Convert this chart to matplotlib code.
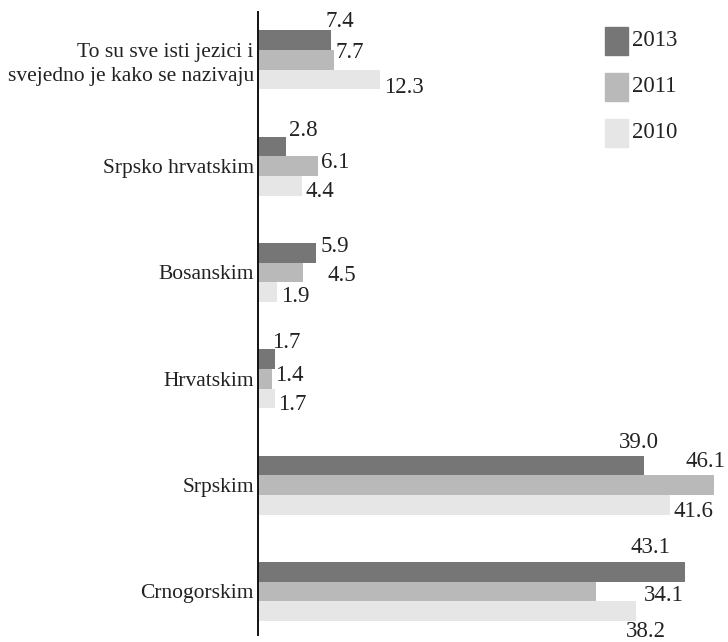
import matplotlib

matplotlib.use("Agg")
import matplotlib.pyplot as plt
from matplotlib.patches import Rectangle
import numpy as np

plt.rcParams["font.family"] = ["Liberation Serif", "DejaVu Serif"]

categories = [
    "To su sve isti jezici i\nsvejedno je kako se nazivaju",
    "Srpsko hrvatskim",
    "Bosanskim",
    "Hrvatskim",
    "Srpskim",
    "Crnogorskim",
]
years = ["2013", "2011", "2010"]
v2013 = [7.4, 2.8, 5.9, 1.7, 39.0, 43.1]
v2011 = [7.7, 6.1, 4.5, 1.4, 46.1, 34.1]
v2010 = [12.3, 4.4, 1.9, 1.7, 41.6, 38.2]

colors = ["#767676", "#b9b9b9", "#e6e6e6"]

# hand-placed value labels: (dx, dy) in pixels from the bar end, baseline-aligned
label_offsets = [
    [(-6, 13), (1, 1.5), (4, -13.5)],
    [(3, 10), (3, -2), (4, -11)],
    [(4, 1), (25, -8.5), (4, -9.5)],
    [(-3, 11), (3, -2), (3, -12)],
    [(-25, 17), (-29, 18), (4, -12)],
    [(-54, 19), (48, -9.5), (-10, -25.5)],
]

W, H = 728, 642
fig = plt.figure(figsize=(W / 100, H / 100), dpi=100)
ax = fig.add_axes([258 / W, 7 / H, 470 / W, 623 / H])

y = np.arange(len(categories))
h = 0.185
series = [v2013, v2011, v2010]
for k, (vals, col) in enumerate(zip(series, colors)):
    ax.barh(y + (k - 1) * h, vals, height=h, color=col)

for i in range(len(categories)):
    for k, vals in enumerate(series):
        dx, dy = label_offsets[i][k]
        ax.annotate(f"{vals[i]:.1f}", (vals[i], y[i] + (k - 1) * h),
                    xytext=(dx, dy), textcoords="offset pixels",
                    ha="left", va="baseline", fontsize=16.5, color="#222222")

ax.set_xlim(0, 47.47)
ax.set_ylim(5.41, -0.45)
ax.set_yticks(y)
ax.set_yticklabels(categories, fontsize=15.5, linespacing=1.3, color="#222222")
ax.tick_params(axis="y", length=0, pad=3)
ax.set_xticks([])
for s in ["top", "right", "bottom"]:
    ax.spines[s].set_visible(False)
ax.spines["left"].set_linewidth(1.4)
ax.spines["left"].set_color("#111111")

# legend: swatches stacked at the top right
for k, (yr, col) in enumerate(zip(years, colors)):
    cy = 41 + k * 46
    fig.patches.append(Rectangle(((605) / W, 1 - (cy + 14) / H), 23 / W, 28 / H,
                                 transform=fig.transFigure, color=col))
    fig.text(632 / W, 1 - cy / H, yr, ha="left", va="center",
             fontsize=16.5, color="#222222")

fig.savefig("out.png", dpi=100)
